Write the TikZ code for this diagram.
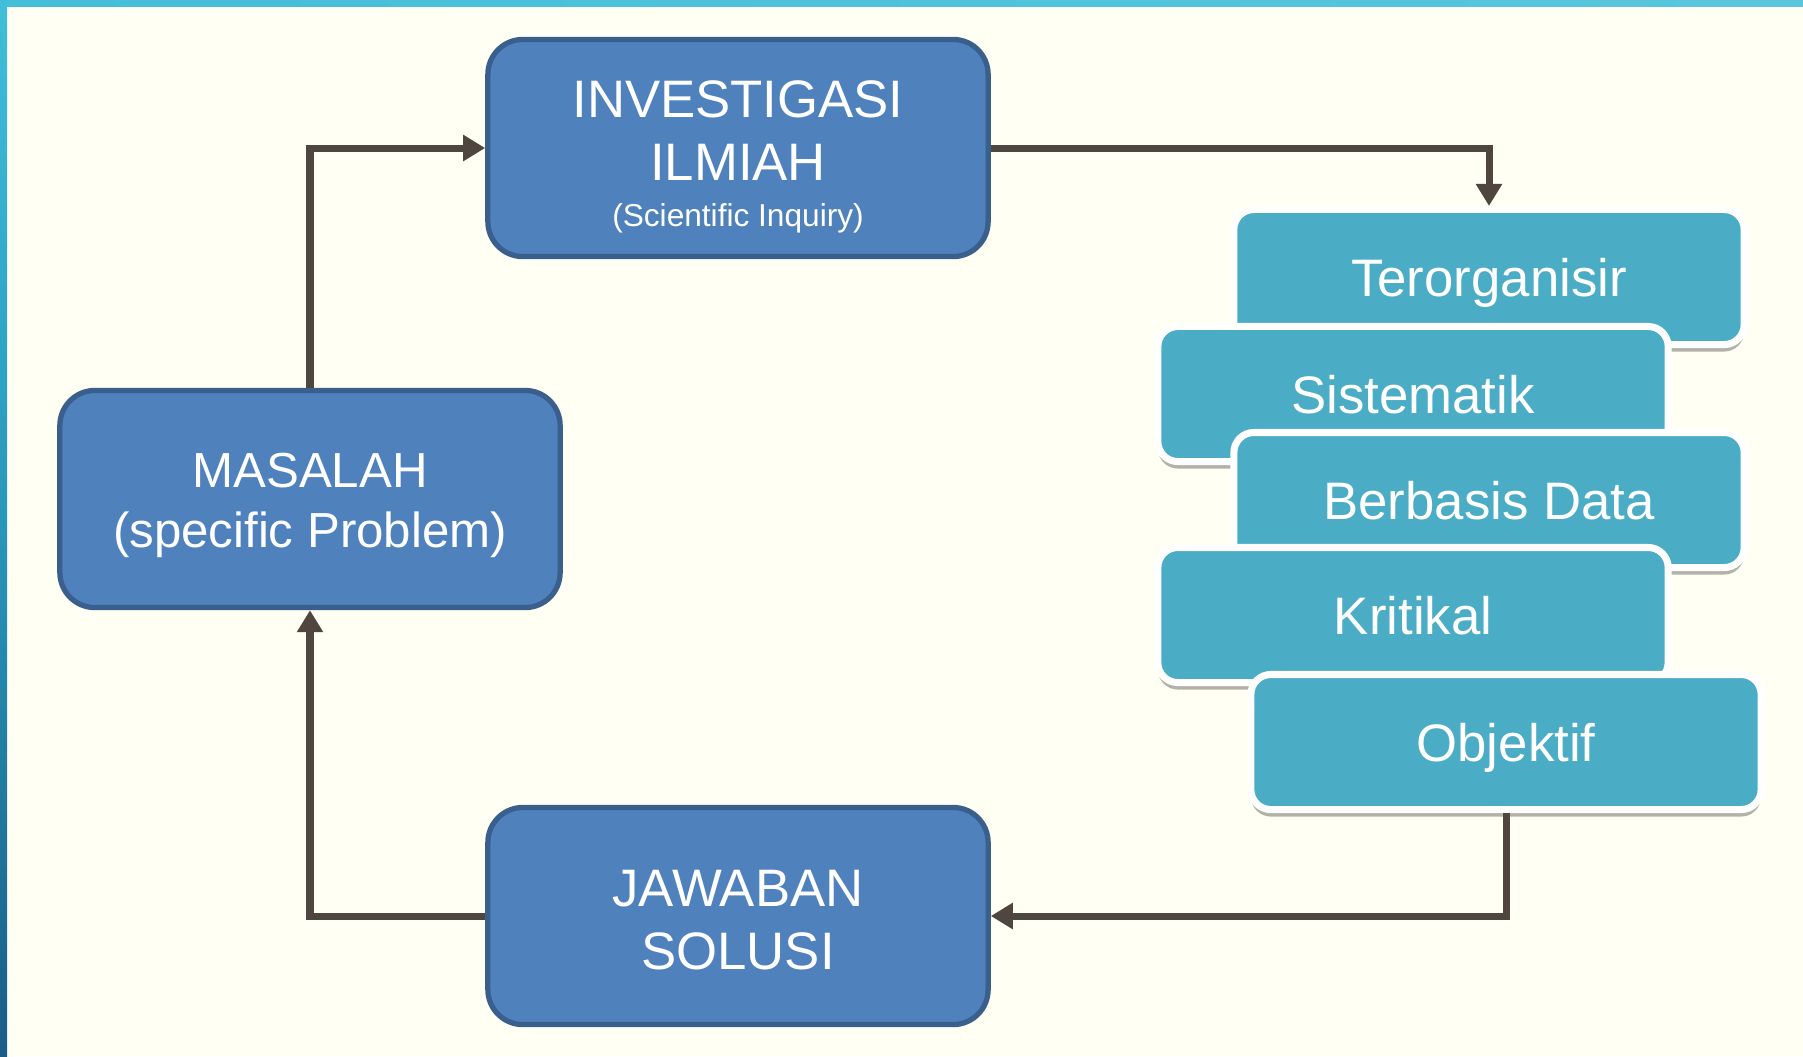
\documentclass[tikz,border=0pt]{standalone}
\usepackage{fontspec}
\setmainfont{Liberation Sans}
\usetikzlibrary{arrows.meta,shadows}
\definecolor{bgcream}{HTML}{FFFFF3}
\definecolor{boxblue}{HTML}{4F81BD}
\definecolor{boxblueline}{HTML}{3B5F8C}
\definecolor{boxteal}{HTML}{4BACC6}
\definecolor{connbrown}{HTML}{4F4640}
\begin{document}
\begin{tikzpicture}[x=0.01cm, y=-0.01cm, >={Triangle[length=0.22cm,width=0.25cm]},
  every node/.style={text=white, align=center},
  bluebox/.style={draw=boxblueline, line width=1.5pt, fill=boxblue, rounded corners=0.35cm,
    minimum width=5.0cm, minimum height=2.17cm, font=\fontsize{15}{18}\selectfont},
  tealbox/.style={draw=white, line width=2pt, fill=boxteal, rounded corners=0.2cm,
    minimum width=5.1cm, minimum height=1.35cm, text height=0.38cm, text depth=0pt,
    font=\fontsize{15}{18}\selectfont,
    drop shadow={shadow xshift=0pt, shadow yshift=-0.07cm, fill=black, opacity=0.3}},
  conn/.style={draw=connbrown, line width=2pt}]
  % background and frame strips
  \fill[bgcream] (0,0) rectangle (1803,1056);
  \fill[left color={rgb,255:red,69;green,190;blue,216}, right color={rgb,255:red,90;green,198;blue,222}]
    (0,0) rectangle (1803,6);
  \fill[top color={rgb,255:red,65;green,190;blue,217}, bottom color={rgb,255:red,26;green,93;blue,134},
    middle color={rgb,255:red,40;green,150;blue,185}] (0,0) rectangle (7,1056);

  \node[bluebox] (investigasi) at (738,148)
    {\rule{0pt}{0.54cm}INVESTIGASI\\ILMIAH\\[-5pt]{\fontsize{9}{11}\selectfont (Scientific Inquiry)}};
  \node[bluebox, font=\fontsize{14}{17}\selectfont] (masalah) at (310,499)
    {\rule{0pt}{0.47cm}MASALAH\\(specific Problem)};
  \node[bluebox] (jawaban) at (738,916) {\rule{0pt}{0.44cm}JAWABAN\\SOLUSI};

  \node[tealbox] (teror) at (1489,277) {Terorganisir};
  \node[tealbox] (sistem) at (1413,394) {Sistematik};
  \node[tealbox] (berbasis) at (1489,500) {Berbasis Data};
  \node[tealbox] (kritikal) at (1413,615) {Kritikal};
  \node[tealbox] (objektif) at (1506,742) {Objektif};

  \draw[conn, ->] (masalah.north) |- (investigasi.west);
  \draw[conn, ->] (investigasi.east) -| (teror.north);
  \draw[conn, ->] (objektif.south) |- (jawaban.east);
  \draw[conn, ->] (jawaban.west) -| (masalah.south);
\end{tikzpicture}
\end{document}
